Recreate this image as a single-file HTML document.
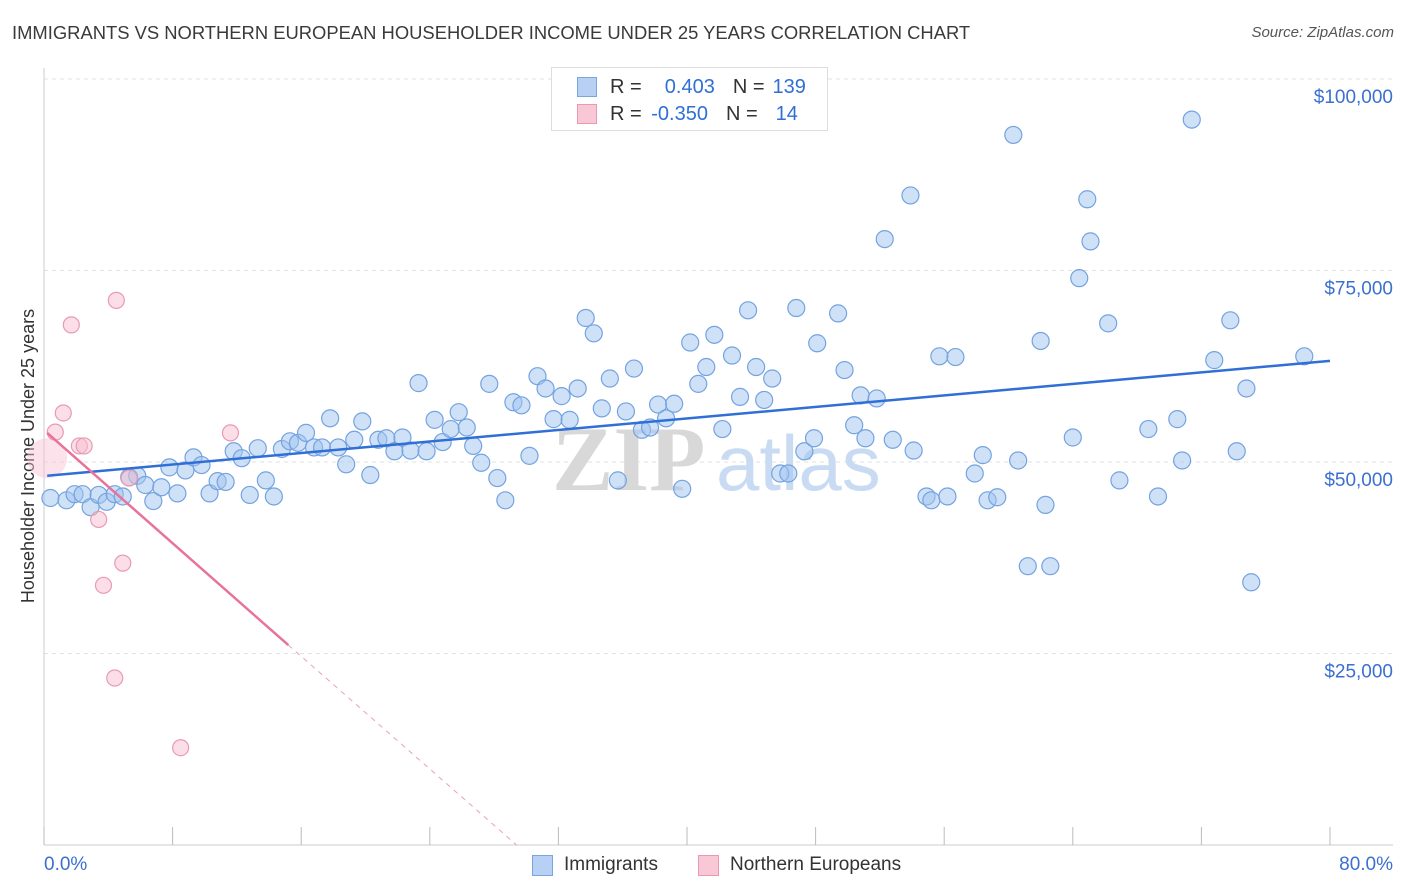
<!DOCTYPE html>
<html><head><meta charset="utf-8"><style>
body{margin:0;background:#fff;font-family:"Liberation Sans",sans-serif;}
#c{position:relative;width:1406px;height:892px;overflow:hidden;}
</style></head><body>
<div id="c">
<div style="position:absolute;left:12px;top:22px;font-size:18.4px;color:#3a3a3a;">IMMIGRANTS VS NORTHERN EUROPEAN HOUSEHOLDER INCOME UNDER 25 YEARS CORRELATION CHART</div>
<div style="position:absolute;right:12px;top:24px;font-size:15px;color:#555;font-style:italic;">Source: ZipAtlas.com</div>
<svg id="s" width="1406" height="892" style="position:absolute;left:0;top:0"></svg>
</div>
<script>
const xTicks=[0,8,16,24,32,40,48,56,64,72,80];
const yTicks=[25000,50000,75000,100000];
const yTickLabels=["$25,000","$50,000","$75,000","$100,000"];
const blueX=[0.4,1.4,1.9,2.4,2.9,3.4,3.9,4.4,4.9,5.3,5.8,6.3,6.8,7.3,7.8,8.3,8.8,9.3,9.8,10.3,10.8,11.3,11.8,12.3,12.8,13.3,13.8,14.3,14.8,15.3,15.8,16.3,16.8,17.3,17.8,18.3,18.8,19.3,19.8,20.3,20.8,21.3,21.8,22.3,22.8,23.3,23.8,24.3,24.8,25.3,25.8,26.3,26.7,27.2,27.7,28.2,28.7,29.2,29.7,30.2,30.7,31.2,31.7,32.2,32.7,33.2,33.7,34.2,34.7,35.2,35.7,36.2,36.7,37.2,37.7,38.2,38.7,39.2,39.7,40.2,40.7,41.2,41.7,42.2,42.8,43.3,43.8,44.3,44.8,45.3,45.8,46.3,46.8,47.3,47.9,48.1,49.4,49.8,50.4,50.8,51.1,51.8,52.3,52.8,53.9,54.1,54.9,55.2,55.7,56.2,56.7,57.9,58.4,58.7,59.3,60.3,60.6,61.2,62.0,62.3,62.6,64.0,64.4,64.9,65.1,66.2,66.9,68.7,69.3,70.5,70.8,71.4,72.8,73.8,74.2,74.8,75.1,78.4];
const blueY=[45.3,45.0,45.8,45.8,44.1,45.7,44.8,45.8,45.5,48.0,48.2,47.0,44.9,46.7,49.3,45.9,48.9,50.6,49.6,45.9,47.5,47.4,51.4,50.5,45.7,51.8,47.6,45.5,51.7,52.7,52.5,53.8,51.9,51.9,55.7,51.9,49.7,52.9,55.3,48.3,52.9,53.1,51.4,53.2,51.5,60.3,51.4,55.5,52.6,54.3,56.5,54.5,52.1,49.9,60.2,47.9,45.0,57.8,57.4,50.8,61.2,59.6,55.6,58.6,55.5,59.6,68.8,66.8,57.0,60.9,47.6,56.6,62.2,54.2,54.5,57.5,55.7,57.6,46.5,65.6,60.2,62.4,66.6,54.3,63.9,58.5,69.8,62.4,58.1,60.9,48.5,48.5,70.1,51.4,53.1,65.5,69.4,62.0,54.8,58.7,53.1,58.3,79.1,52.9,84.8,51.5,45.5,45.0,63.8,45.5,63.7,48.5,50.9,45.0,45.4,92.7,50.2,36.4,65.8,44.4,36.4,53.2,74.0,84.3,78.8,68.1,47.6,54.3,45.5,55.6,50.2,94.7,63.3,68.5,51.4,59.6,34.3,63.8];
const pinkX=[0.7,1.7,1.2,2.2,2.5,3.4,3.7,4.5,4.9,4.4,5.3,8.5,11.6];
const pinkY=[53.9,67.9,56.4,52.1,52.1,42.5,33.9,71.1,36.8,21.8,47.9,12.7,53.8];
const pinkBigX=[0.2], pinkBigY=[50.5];
const blueTrendX=[0.2,80], blueTrendY=[48.2,63.2];
const pinkTrendX=[0.2,15.2,29.4], pinkTrendY=[53.8,26.1,0];

const X0=44,X1=1330,YB=845,YT=79;
const xs=v=>X0+(X1-X0)*v/80;
const ys=v=>YB-(YB-YT)*v/100000;
const svg=document.getElementById('s');
const NS='http://www.w3.org/2000/svg';
function mk(t,a,p){const e=document.createElementNS(NS,t);for(const k in a)e.setAttribute(k,a[k]);(p||svg).appendChild(e);return e;}
yTicks.forEach((v,i)=>{
 const l=mk('line',{x1:X0,x2:1393,y1:ys(v),y2:ys(v),stroke:'#e2e2e2','stroke-dasharray':'4,4'});
 
 
});
yTicks.forEach((v,i)=>{
 const t=mk('text',{x:1393,y:ys(v)+24,'text-anchor':'end','font-size':19,fill:'#3b6fd0','font-family':'Liberation Sans, sans-serif'});
 t.textContent=yTickLabels[i];
 
 
});
const ax=mk('line',{x1:X0,x2:1393,y1:YB,y2:YB,stroke:'#ccc'});


const ay=mk('line',{x1:X0,x2:X0,y1:68,y2:YB,stroke:'#ccc'});


xTicks.forEach(v=>{
 const l=mk('line',{x1:xs(v),x2:xs(v),y1:YB,y2:YB-18,stroke:'#bbb'});
 
 
});
[['0.0%',44,'start'],['80.0%',1393,'end']].forEach(a=>{
 const t=mk('text',{x:a[1],y:870,'text-anchor':a[2],'font-size':19,fill:'#3b6fd0','font-family':'Liberation Sans, sans-serif'});
 t.textContent=a[0];
 
 
});
const yt=mk('text',{x:0,y:0,transform:'translate(34,456) rotate(-90)','text-anchor':'middle','font-size':18,fill:'#333','font-family':'Liberation Sans, sans-serif'});
yt.textContent='Householder Income Under 25 years';


const wm=mk('text',{x:552,y:490,'font-size':92,fill:'#d8d8d8','font-family':'Liberation Serif, serif','font-weight':'bold'});
wm.textContent='ZIP';


const wm2=mk('text',{x:716,y:490,'font-size':78,fill:'#c9dbf2','font-family':'Liberation Sans, sans-serif'});
wm2.textContent='atlas';


blueX.forEach((v,i)=>{
 const c=mk('circle',{cx:xs(v),cy:ys(blueY[i]*1000),r:8.5,fill:'rgba(160,195,240,0.5)',stroke:'#74a3e0','stroke-width':1.2});
 
 
});
pinkBigX.forEach((v,i)=>{
 const c=mk('circle',{cx:xs(v),cy:ys(pinkBigY[i]*1000),r:20,fill:'rgba(248,190,208,0.45)',stroke:'none'});
 
 
});
pinkX.forEach((v,i)=>{
 const c=mk('circle',{cx:xs(v),cy:ys(pinkY[i]*1000),r:8,fill:'rgba(248,190,208,0.5)',stroke:'#e99ab2','stroke-width':1.2});
 
 
});
const bt=mk('line',{x1:xs(blueTrendX[0]),y1:ys(blueTrendY[0]*1000),x2:xs(blueTrendX[1]),y2:ys(blueTrendY[1]*1000),stroke:'#2f6fd6','stroke-width':2.5});


const pt=mk('line',{x1:xs(pinkTrendX[0]),y1:ys(pinkTrendY[0]*1000),x2:xs(pinkTrendX[1]),y2:ys(pinkTrendY[1]*1000),stroke:'#e8729a','stroke-width':2.5});


const pd=mk('line',{x1:xs(pinkTrendX[1]),y1:ys(pinkTrendY[1]*1000),x2:xs(pinkTrendX[2]),y2:ys(pinkTrendY[2]*1000),stroke:'#eaa0b8','stroke-width':1,'stroke-dasharray':'5,5'});


</script>
<div style="position:absolute;left:551px;top:67px;width:275px;height:62px;border:1px solid #ddd;background:#fff;font-size:20px;color:#333;">
 <div style="position:absolute;left:25px;top:9px;width:18px;height:18px;background:#b7d0f3;border:1px solid #7aa6e0;"></div>
 <div style="position:absolute;left:58px;top:8px;">R = <span style="color:#2f6fd6;margin-left:12px">&nbsp;0.403</span><span style="margin-left:18px">N =</span><span style="color:#2f6fd6;margin-left:8px">139</span></div>
 <div style="position:absolute;left:25px;top:36px;width:18px;height:18px;background:#f8c8d6;border:1px solid #e99ab2;"></div>
 <div style="position:absolute;left:58px;top:35px;">R = <span style="color:#2f6fd6;margin-left:4px">-0.350</span><span style="margin-left:18px">N =</span><span style="color:#2f6fd6;margin-left:18px">14</span></div>
</div>
<div style="position:absolute;left:532px;top:853px;font-size:19px;color:#333;">
 <span style="position:absolute;left:0;top:2px;width:19px;height:19px;background:#b7d0f3;border:1px solid #7aa6e0;"></span>
 <span style="position:absolute;left:32px;top:1px;white-space:nowrap">Immigrants</span>
 <span style="position:absolute;left:166px;top:2px;width:19px;height:19px;background:#f8c8d6;border:1px solid #e99ab2;"></span>
 <span style="position:absolute;left:198px;top:1px;white-space:nowrap">Northern Europeans</span>
</div>
</body></html>
